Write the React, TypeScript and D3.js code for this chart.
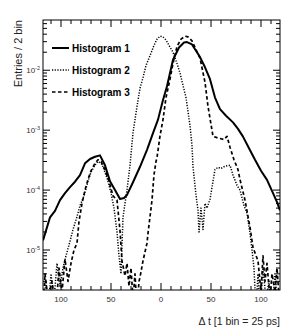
import * as d3 from "d3";

const width = 301;
const height = 336;
const marginTop = 20;
const marginRight = 21;
const marginBottom = 46;
const marginLeft = 43;

// histogram 1 (solid)
const tH1 = [-118, -111, -106, -101, -96, -91, -86, -81, -76, -71, -66, -61, -56, -51, -46, -41, -37, -34, -28, -21, -14, -8, -3, 2, 6, 12, 18, 23, 26, 31, 39, 44, 49, 54, 59, 65, 72, 77, 82, 88, 94, 100, 106, 112, 116, 119];
const h1 = [1.45e-5, 3.5e-5, 4.5e-5, 6.8e-5, 8.9e-5, 1.12e-4, 1.38e-4, 1.78e-4, 2.8e-4, 3.3e-4, 3.6e-4, 3.8e-4, 2.6e-4, 1.4e-4, 1.0e-4, 7.1e-5, 7.4e-5, 8.3e-5, 1.35e-4, 2.45e-4, 4.7e-4, 8.9e-4, 1.5e-3, 3.2e-3, 5.4e-3, 1.5e-2, 2.4e-2, 2.9e-2, 2.95e-2, 2.7e-2, 1.66e-2, 1.12e-2, 7.1e-3, 3.5e-3, 2.24e-3, 1.74e-3, 1.35e-3, 1.05e-3, 7.8e-4, 5.0e-4, 3.2e-4, 2.1e-4, 1.48e-4, 8.9e-5, 6.3e-5, 4.6e-5];

// histogram 2 (dotted)
const tH2 = [-118, -115, -113, -110, -107, -104, -101, -98, -95, -91, -88, -84, -81, -77, -73, -70, -66, -63, -59, -54, -50, -47, -44, -42, -40, -38, -36, -34, -31, -28, -24, -21, -18, -15, -11, -7, -4, -1, 2, 5, 8, 12, 16, 19, 22, 25, 29, 31, 32, 35, 37, 38, 40, 42, 44, 46, 49, 52, 54, 57, 60, 64, 69, 72, 76, 79, 83, 86, 89, 91, 93, 95, 97, 99, 102, 105, 108, 111, 114, 117, 119];
const h2 = [1e-6, 3e-6, 1e-6, 4e-6, 1.5e-6, 6e-6, 2.5e-6, 5e-6, 8e-6, 1.4e-5, 2.2e-5, 3.6e-5, 5.5e-5, 8e-5, 1.4e-4, 2e-4, 2.6e-4, 3.0e-4, 2.7e-4, 1.6e-4, 9e-5, 5e-5, 2e-5, 8e-6, 4e-6, 3.5e-5, 6e-5, 1.0e-4, 2.6e-4, 9e-4, 2.5e-3, 5.0e-3, 7.5e-3, 1.2e-2, 1.75e-2, 2.6e-2, 3.3e-2, 3.7e-2, 3.6e-2, 3.2e-2, 2.6e-2, 2.0e-2, 1.3e-2, 9e-3, 5.6e-3, 3.5e-3, 1.2e-3, 5.5e-4, 2.45e-4, 8.3e-5, 4.6e-5, 2.0e-5, 5e-5, 2.2e-5, 6e-5, 5e-5, 7e-5, 1.4e-4, 2.2e-4, 2.4e-4, 2.3e-4, 2.5e-4, 2.6e-4, 1.78e-4, 1.2e-4, 1.0e-4, 5.5e-5, 4.1e-5, 1.9e-5, 1e-5, 5e-6, 1e-6, 4e-6, 1e-6, 5e-6, 1.5e-6, 3e-6, 1e-6, 4e-6, 1e-6, 2e-6];

// histogram 3 (dashed)
const tH3 = [-118, -116, -113, -109, -105, -102, -99, -96, -93, -90, -87, -84, -82, -79, -76, -73, -70, -66, -63, -60, -56, -52, -48, -44, -41, -39, -36, -34, -32, -30, -28, -26, -24, -22, -21, -18, -14, -13, -9, -7, -5, -4, -1, 2, 5, 9, 12, 16, 20, 24, 27, 31, 35, 39, 44, 47, 52, 56, 60, 63, 66, 69, 73, 77, 79, 84, 89, 92, 97, 100, 102, 104, 106, 109, 111, 114, 116, 119];
const h3 = [1e-6, 4e-6, 1.5e-6, 3e-6, 1e-6, 5e-6, 2e-6, 7e-6, 3e-6, 6e-6, 1.0e-5, 1.3e-5, 3e-5, 6e-5, 1.0e-4, 1.5e-4, 2.1e-4, 2.8e-4, 3.2e-4, 3.0e-4, 2.2e-4, 1.4e-4, 8e-5, 6.8e-5, 2.1e-5, 6.6e-6, 3.7e-6, 6e-6, 2.5e-6, 5e-6, 1.5e-6, 4e-6, 1e-6, 3e-6, 3.5e-6, 6.6e-6, 1.3e-5, 1.9e-5, 6.8e-5, 1.8e-4, 3.0e-4, 3.5e-4, 8e-4, 1.5e-3, 3.5e-3, 7.1e-3, 1.3e-2, 2.5e-2, 3.3e-2, 3.7e-2, 3.6e-2, 3.1e-2, 2.2e-2, 1.6e-2, 6.3e-3, 2.5e-3, 7.9e-4, 7.5e-4, 7.2e-4, 7.0e-4, 7.9e-4, 5.2e-4, 3.2e-4, 2.2e-4, 1.5e-4, 6.8e-5, 2.4e-5, 1.1e-5, 6.6e-6, 2e-6, 8e-6, 3e-6, 6e-6, 1.5e-6, 4e-6, 2e-6, 5e-6, 1e-6];

const xMajor = [-100, -50, 0, 50, 100];
const xMinorStep = 10;
const yMajor = [1e-5, 1e-4, 1e-3, 1e-2];
const yExponents = ["-5", "-4", "-3", "-2"];
const legendLabels = ["Histogram 1", "Histogram 2", "Histogram 3"];
const xTitle = "\u0394 t [1 bin = 25 ps]";
const yTitle = "Entries / 2 bin";

const font = "'Liberation Sans', Arial, Helvetica, sans-serif";

const series = [
  { t: tH1, v: h1, width: 2, dash: "none" },
  { t: tH2, v: h2, width: 1.5, dash: "1.2,1.5" },
  { t: tH3, v: h3, width: 1.7, dash: "3.5,2.5" },
];

const x = d3
  .scaleLinear()
  .domain([-118, 119])
  .range([marginLeft, width - marginRight]);

const y = d3
  .scaleLog()
  .domain([2.15e-6, 6.9e-2])
  .range([height - marginBottom, marginTop]);

const App = () => {
  const [x0, x1] = x.range();
  const [y0, y1] = y.range();

  const xMinor = d3
    .range(-110, 120, xMinorStep)
    .filter((d) => !xMajor.includes(d));

  const yMinor: number[] = [];
  for (let e = -6; e <= -1; e++) {
    for (let m = 2; m <= 9; m++) {
      const v = m * Math.pow(10, e);
      if (v > y.domain()[0] && v < y.domain()[1]) yMinor.push(v);
    }
  }

  const line = (t: number[], v: number[]) =>
    d3
      .line<number>()
      .x((_, i) => x(t[i]))
      .y((d) => y(Math.max(d, 1e-7)))(v) as string;

  return (
    <svg
      width={width}
      height={height}
      style={{ position: "absolute", left: 0, top: 0, background: "#fff" }}
    >
      <defs>
        <clipPath id="frame">
          <rect x={x0} y={y1} width={x1 - x0} height={y0 - y1} />
        </clipPath>
      </defs>

      <g clipPath="url(#frame)" fill="none" stroke="#000" strokeLinejoin="round">
        {series.map((s, i) => (
          <path
            key={i}
            d={line(s.t, s.v)}
            strokeWidth={s.width}
            strokeDasharray={s.dash}
          />
        ))}
      </g>

      <rect
        x={x0}
        y={y1}
        width={x1 - x0}
        height={y0 - y1}
        fill="none"
        stroke="#000"
        strokeWidth={1}
      />

      <g stroke="#000" strokeWidth={1}>
        {xMajor.map((d) => (
          <g key={"xm" + d}>
            <line x1={x(d)} x2={x(d)} y1={y0} y2={y0 - 7} />
            <line x1={x(d)} x2={x(d)} y1={y1} y2={y1 + 7} />
          </g>
        ))}
        {xMinor.map((d) => (
          <g key={"xn" + d}>
            <line x1={x(d)} x2={x(d)} y1={y0} y2={y0 - 4} />
            <line x1={x(d)} x2={x(d)} y1={y1} y2={y1 + 4} />
          </g>
        ))}
        {yMajor.map((d) => (
          <g key={"ym" + d}>
            <line x1={x0} x2={x0 + 7} y1={y(d)} y2={y(d)} />
            <line x1={x1} x2={x1 - 7} y1={y(d)} y2={y(d)} />
          </g>
        ))}
        {yMinor.map((d) => (
          <g key={"yn" + d}>
            <line x1={x0} x2={x0 + 4} y1={y(d)} y2={y(d)} />
            <line x1={x1} x2={x1 - 4} y1={y(d)} y2={y(d)} />
          </g>
        ))}
      </g>

      <g fontFamily={font} fontSize={8} fill="#333">
        {xMajor.map((d) => (
          <text key={"xl" + d} x={x(d)} y={y0 + 12} textAnchor="middle">
            {Math.abs(d)}
          </text>
        ))}
        {yMajor.map((d, i) => (
          <text key={"yl" + d} x={x0 - 3} y={y(d) + 3} textAnchor="end">
            10
            <tspan fontSize={5.5} dy={-3.5}>
              {yExponents[i]}
            </tspan>
          </text>
        ))}
      </g>

      <text
        fontFamily={font}
        fontSize={11}
        fill="#222"
        textAnchor="end"
        transform={`translate(22, ${y1}) rotate(-90)`}
      >
        {yTitle}
      </text>
      <text
        fontFamily={font}
        fontSize={10.5}
        fill="#222"
        textAnchor="end"
        x={x1}
        y={y0 + 35}
      >
        {xTitle}
      </text>

      <g fontFamily={font} fontSize={10} fontWeight="bold" fill="#000">
        {legendLabels.map((label, i) => {
          const ly = 48 + i * 22;
          const s = series[i];
          return (
            <g key={label}>
              <line
                x1={52}
                x2={69}
                y1={ly}
                y2={ly}
                stroke="#000"
                strokeWidth={s.width}
                strokeDasharray={s.dash}
              />
              <text x={72} y={ly + 3.5}>
                {label}
              </text>
            </g>
          );
        })}
      </g>
    </svg>
  );
};

export default App;
